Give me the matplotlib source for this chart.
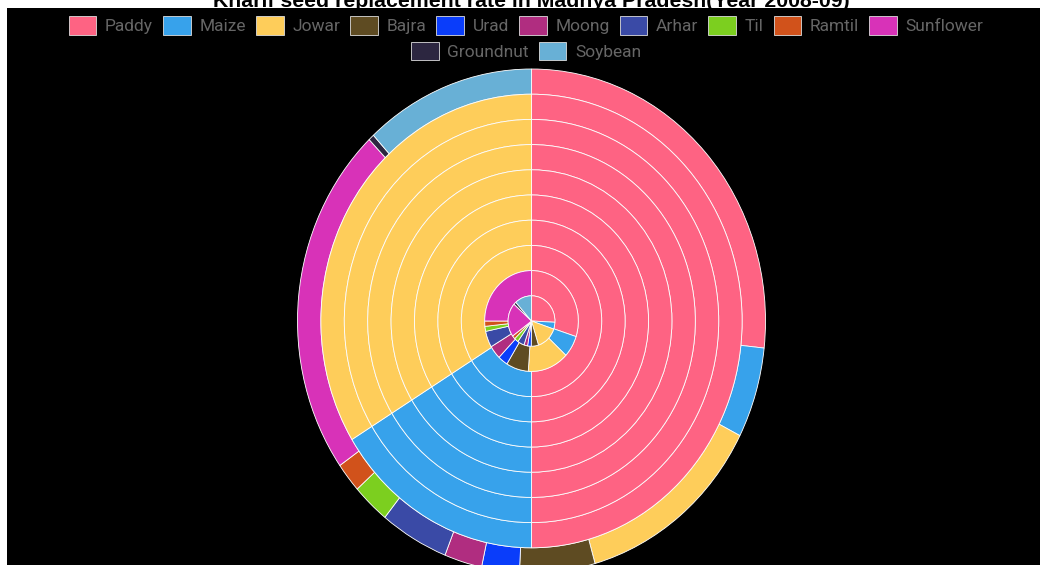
import matplotlib.pyplot as plt
from matplotlib.patches import Rectangle

crops = ["Paddy", "Maize", "Jowar", "Bajra", "Urad", "Moong", "Arhar", "Til",
         "Ramtil", "Sunflower", "Groundnut", "Soybean"]
colors = ["#fe6383", "#37a2eb", "#fecd5a", "#5e4b22", "#0a3dfa", "#b02d80",
          "#3a4aa6", "#7ccf1f", "#d1521b", "#d832b8", "#2c2640", "#68b0d6"]

# one list per ring, outermost first
ring_outer = [26.7, 5.8, 13.1, 5.2, 2.6, 2.6, 4.75, 2.6, 1.9, 22.5, 0.4, 11.8]
ring_mid = [50.0, 16.25, 33.75, 0, 0, 0, 0, 0, 0, 0, 0, 0]
ring_in1 = [30.0, 6.9, 14.2, 7.7, 3.4, 4.3, 5.2, 1.6, 1.7, 25.0, 0, 0]
ring_in2 = [25.8, 4.4, 15.0, 5.0, 2.5, 2.5, 4.7, 2.8, 2.2, 21.7, 1.7, 11.7]
rings = [ring_outer] + [ring_mid] * 7 + [ring_in1, ring_in2]

title = "Kharif seed replacement rate in Madhya Pradesh(Year 2008-09)"

W, H = 1045, 565
fig = plt.figure(figsize=(W / 100, H / 100), dpi=100, facecolor="white")

# background: black canvas + clipped title
bg = fig.add_axes([0, 0, 1, 1])
bg.set_xlim(0, W)
bg.set_ylim(0, H)
bg.axis("off")
bg.add_patch(Rectangle((7, 0), 1033, H - 8, facecolor="black", edgecolor="none", zorder=1))
bg.text(531, H - 7, title, ha="center", va="baseline", fontsize=15.3,
        fontweight="bold", family="Liberation Sans", color="black", zorder=0)

# pie, slightly squashed horizontally like the reference
ax = fig.add_axes([0, 0, 1, 1])
ax.patch.set_alpha(0)
cx, cy = 531.5, 321
R = 252.0
sx = 234.0 / 252.0
w = R / len(rings)

for i, vals in enumerate(rings):
    v = [x for x in vals if x > 0]
    c = [colors[k] for k, x in enumerate(vals) if x > 0]
    ax.pie(v, colors=c, radius=R - i * w, center=(0, 0), startangle=90,
           counterclock=False, normalize=True,
           wedgeprops=dict(width=w, edgecolor="white", linewidth=0.6))

ax.set_aspect("auto")
ax.set_xlim(-cx / sx, (W - cx) / sx)
ax.set_ylim(-(H - cy), cy)
ax.axis("off")

handles = [Rectangle((0, 0), 1, 1, facecolor=colors[k], edgecolor="#dddddd", linewidth=0.6)
           for k in range(len(crops))]
lkw = dict(frameon=False, handlelength=1.6, handleheight=1.25,
           handletextpad=0.5, columnspacing=0.57, labelcolor="#666666",
           prop=dict(family="Roboto", size=12.5), borderpad=0, borderaxespad=0)
leg1 = fig.legend(handles[:10], crops[:10], ncol=10, loc="center",
                  bbox_to_anchor=(526 / W, 1 - 25.5 / H), **lkw)
leg2 = fig.legend(handles[10:], crops[10:], ncol=2, loc="center",
                  bbox_to_anchor=(526 / W, 1 - 51 / H), **lkw)

fig.savefig("out.png", dpi=100, facecolor="white")
